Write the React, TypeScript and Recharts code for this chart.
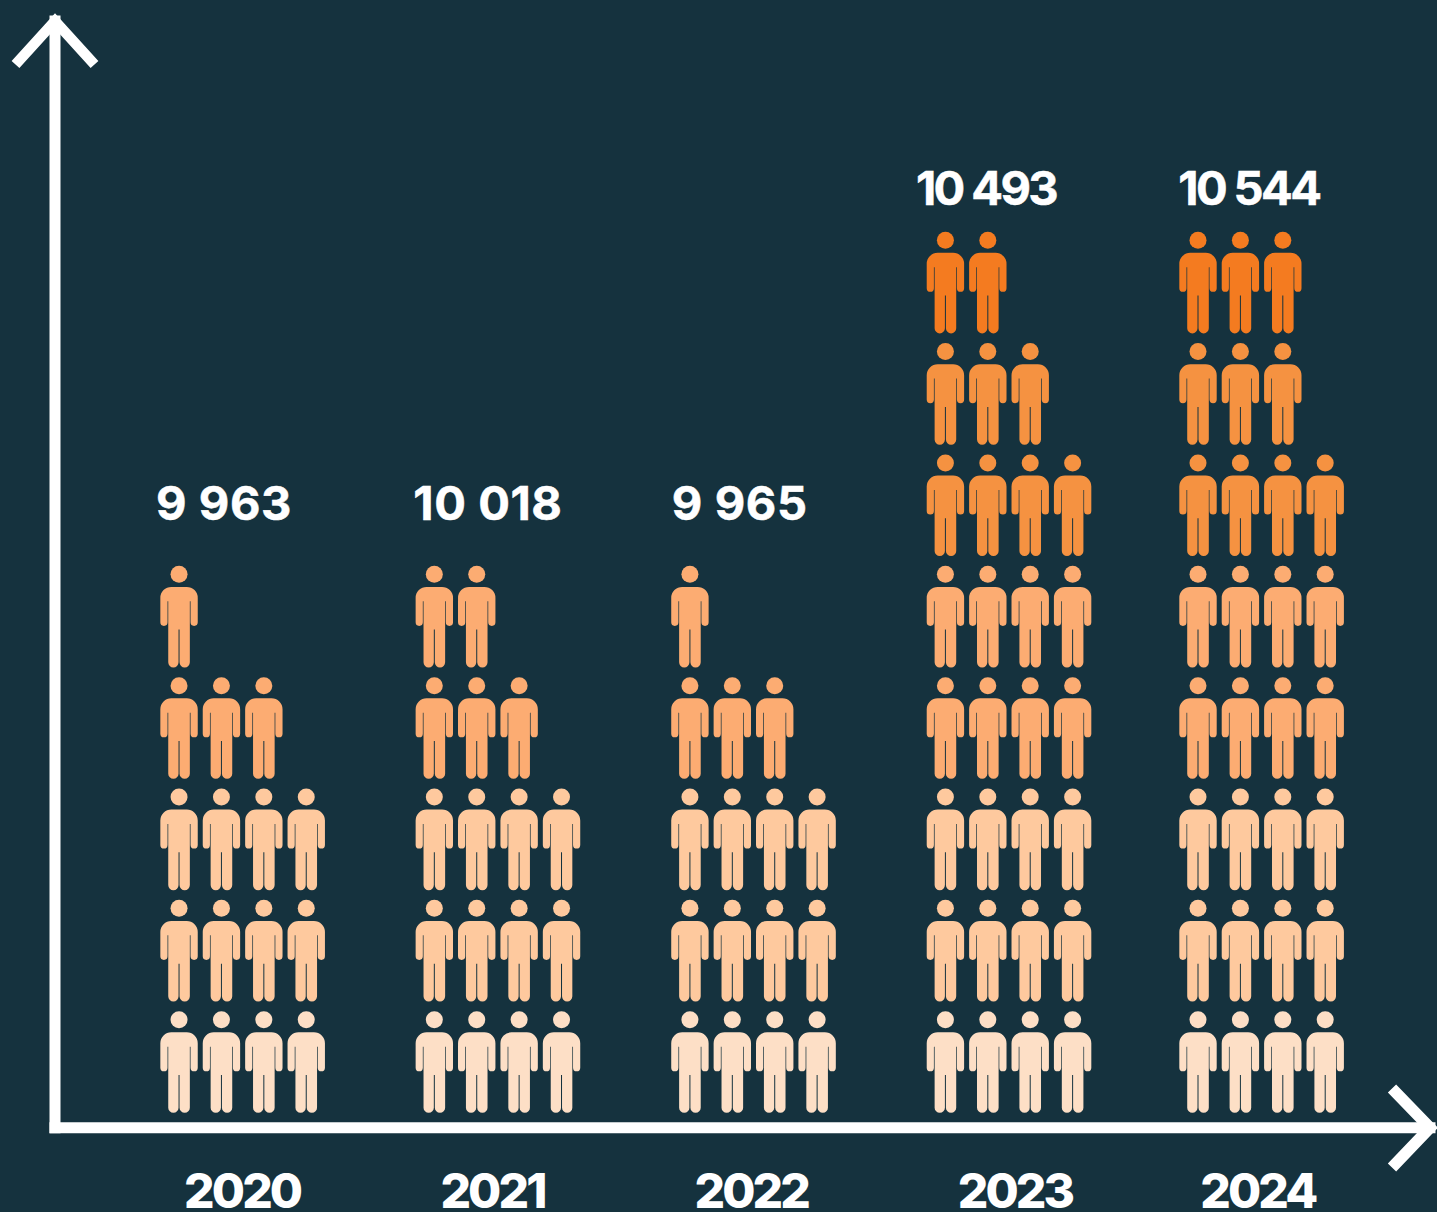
import React from "react";
import { ScatterChart, Scatter, XAxis, YAxis } from "recharts";

// ---- data ----
const years = [2020, 2021, 2022, 2023, 2024];
const totals = ["9 963", "10 018", "9 965", "10 493", "10 544"];
// number of people icons per row (bottom to top), one list per row, one value per year
const row1 = [4, 4, 4, 4, 4];
const row2 = [4, 4, 4, 4, 4];
const row3 = [4, 4, 4, 4, 4];
const row4 = [3, 3, 3, 4, 4];
const row5 = [1, 2, 1, 4, 4];
const row6 = [0, 0, 0, 4, 4];
const row7 = [0, 0, 0, 3, 3];
const row8 = [0, 0, 0, 2, 3];
const rows = [row1, row2, row3, row4, row5, row6, row7, row8];

// ---- styles / layout ----
const BG = "#15323E";
const rowColors = ["#FDDFC6", "#FEC99E", "#FEC99E", "#FCAC72", "#FCAC72", "#F59241", "#F59241", "#F47B20"];
const COL_STEP = 42.4;
const groupNudge = [0, 0, 0.3, 0.5, -2.2];
const totalNudgeX = [-18.6, -10, -13.5, -22.5, -15];
const totalNudgeY = [-35.5, -35.5, -35.5, -16.7, -16.7];
const totalSpacing = [0.6, 0.6, 0.6, -2.6, -2.6];
const tickNudgeX = [-0.5, -5.5, -2, 6.5, -6];
const FONT = "Inter, sans-serif";

const BODY =
  "M-7.7 -80.4H7.7A11 11 0 0 1 18.7 -69.4V-45A3.6 3.6 0 0 1 11.5 -45V-66H10.8V-5A5.15 5.15 0 0 1 0.5 -5V-37.7H-0.5V-5A5.15 5.15 0 0 1 -10.8 -5V-66H-11.5V-45A3.6 3.6 0 0 1 -18.7 -45V-69.4A11 11 0 0 1 -7.7 -80.4Z";

const peopleInRow = (counts: number[], r: number) =>
  years.flatMap((year, i) =>
    Array.from({ length: counts[i] }, (_, col) => ({ year, row: r, col, yi: i }))
  );

const totalsData = years.map((year, i) => ({
  year,
  yi: i,
  row: rows.filter((c) => c[i] > 0).length,
  label: totals[i],
}));

const Person = (fill: string) => (p: any) => {
  const { cx, cy, payload } = p;
  const x = cx + (payload.col - 1.5) * COL_STEP + groupNudge[payload.yi];
  return (
    <g transform={`translate(${x} ${cy})`} fill={fill}>
      <circle cx={0} cy={-93} r={8.5} />
      <path d={BODY} />
    </g>
  );
};

const TotalLabel = (p: any) => {
  const { cx, cy, payload } = p;
  return (
    <text
      x={cx + totalNudgeX[payload.yi]}
      y={cy + totalNudgeY[payload.yi]}
      textAnchor="middle"
      fill="#FFFFFF"
      fontFamily={FONT}
      fontWeight={700}
      fontSize={47}
      letterSpacing={totalSpacing[payload.yi]}
      stroke="#FFFFFF"
      strokeWidth={0.5}
    >
      {payload.label}
    </text>
  );
};

const YearTick = (p: any) => {
  const i = years.indexOf(p.payload.value);
  return (
    <text
      x={p.x + tickNudgeX[i]}
      y={1208}
      textAnchor="middle"
      fill="#FFFFFF"
      fontFamily={FONT}
      fontWeight={800}
      fontSize={48}
      letterSpacing={-2.9}
    >
      {p.payload.value}
    </text>
  );
};

const axisLine = { stroke: "#FFFFFF", strokeWidth: 11, strokeLinecap: "square" as const };

export default function App() {
  return (
    <div style={{ position: "absolute", left: 0, top: 0, width: 1437, height: 1212, background: BG, overflow: "hidden" }}>
      <ScatterChart
        width={1437}
        height={1212}
        margin={{ left: 54, right: 7, top: 21, bottom: 0 }}
      >
        <XAxis
          type="number"
          dataKey="year"
          domain={[2019.265, 2024.651]}
          ticks={years}
          interval={0}
          height={84.3}
          axisLine={axisLine}
          tickLine={false}
          tick={YearTick}
        />
        <YAxis
          type="number"
          dataKey="row"
          domain={[-0.1347, 9.804]}
          width={1}
          axisLine={axisLine}
          tickLine={false}
          tick={false}
        />
        {rows.map((counts, r) => (
          <Scatter
            key={r}
            name={`row ${r + 1}`}
            data={peopleInRow(counts, r)}
            fill={rowColors[r]}
            shape={Person(rowColors[r])}
            isAnimationActive={false}
          />
        ))}
        <Scatter name="totals" data={totalsData} shape={TotalLabel} isAnimationActive={false} />
        <path d="M15.5 64.5L55 21L94.5 64.5" fill="none" stroke="#FFFFFF" strokeWidth={10.5} strokeLinejoin="miter" />
        <path d="M1392 1088.5L1430 1127.7L1392 1167.5" fill="none" stroke="#FFFFFF" strokeWidth={11.5} strokeLinejoin="miter" />
      </ScatterChart>
    </div>
  );
}
